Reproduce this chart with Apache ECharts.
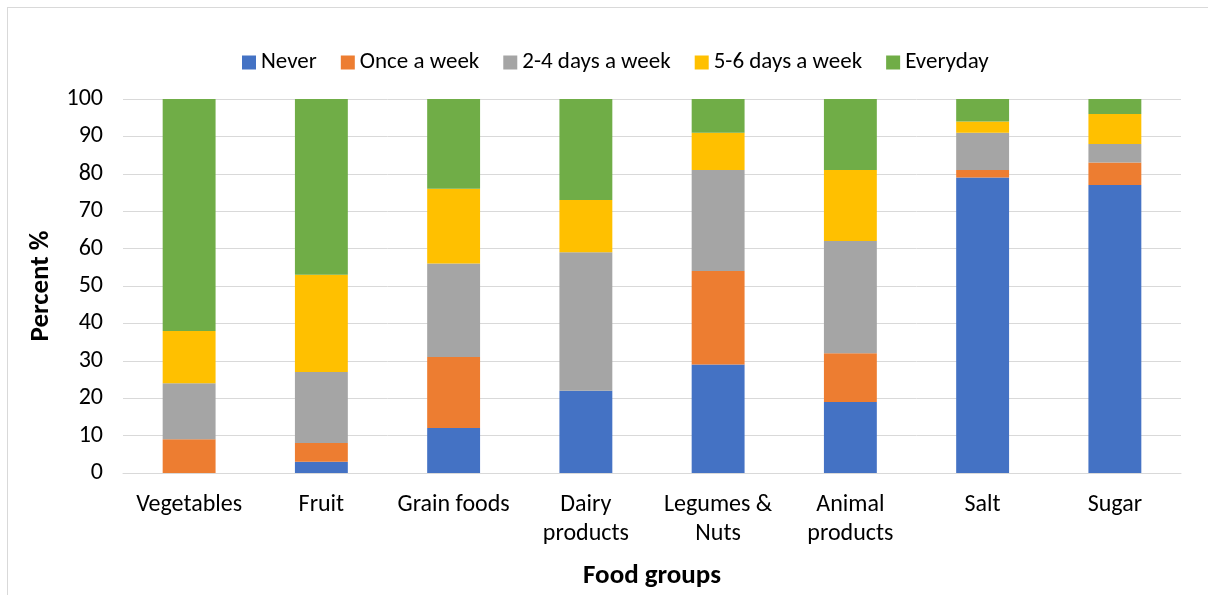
<!DOCTYPE html>
<html>
<head>
<meta charset="utf-8">
<script src="https://cdn.jsdelivr.net/npm/echarts@6/dist/echarts.min.js"></script>
<style>
  html, body { margin: 0; padding: 0; background: #fff; }
  #frame { position: absolute; left: 7px; top: 7px; width: 1230px; height: 620px; border: 1px solid #d9d9d9; box-sizing: border-box; }
  #chart { position: absolute; left: 0; top: 0; width: 1208px; height: 595px; }
</style>
</head>
<body>
<div id="frame"></div>
<div id="chart"></div>
<script>
// Food groups on the x axis
const categories = ['Vegetables', 'Fruit', 'Grain foods', 'Dairy\nproducts', 'Legumes &\nNuts', 'Animal\nproducts', 'Salt', 'Sugar'];

// Consumption frequency shares (%), stacked per food group
const never     = [0, 3, 12, 22, 29, 19, 79, 77];
const onceWeek  = [9, 5, 19, 0, 25, 13, 2, 6];
const days2to4  = [15, 19, 25, 37, 27, 30, 10, 5];
const days5to6  = [14, 26, 20, 14, 10, 19, 3, 8];
const everyday  = [62, 47, 24, 27, 9, 19, 6, 4];

const seriesNames = ['Never', 'Once a week', '2-4 days a week', '5-6 days a week', 'Everyday'];
const seriesColors = ['#4472c4', '#ed7d31', '#a5a5a5', '#ffc000', '#70ad47'];
const seriesData = [never, onceWeek, days2to4, days5to6, everyday];

const yTicks = [0, 10, 20, 30, 40, 50, 60, 70, 80, 90, 100];

const font = 'Calibri, Carlito, "Noto Sans", sans-serif';

const chart = echarts.init(document.getElementById('chart'), null, { renderer: 'canvas' });

chart.setOption({
  animation: false,
  textStyle: { fontFamily: font },
  legend: {
    top: 46,
    left: 237,
    itemWidth: 14,
    itemHeight: 14,
    itemGap: 24,
    icon: 'rect',
    textStyle: { fontSize: 23, color: '#000', fontFamily: font },
    data: seriesNames
  },
  grid: { left: 123, right: 27, top: 99, bottom: 122, containLabel: false },
  xAxis: {
    type: 'category',
    data: categories,
    axisTick: { show: false },
    axisLine: { show: true, lineStyle: { color: '#d9d9d9', width: 1 } },
    axisLabel: { interval: 0, fontSize: 24, color: '#000', lineHeight: 29, margin: 17, fontFamily: font },
    name: 'Food groups',
    nameLocation: 'middle',
    nameGap: 90,
    nameTextStyle: { fontSize: 27, fontWeight: 'bold', color: '#000', fontFamily: font }
  },
  yAxis: {
    type: 'value',
    min: yTicks[0],
    max: yTicks[yTicks.length - 1],
    interval: yTicks[1] - yTicks[0],
    axisLine: { show: false },
    axisTick: { show: false },
    splitLine: { lineStyle: { color: '#d9d9d9', width: 1 } },
    axisLabel: { fontSize: 24, color: '#000', margin: 20, fontFamily: font },
    name: 'Percent %',
    nameLocation: 'middle',
    nameGap: 68,
    nameTextStyle: { fontSize: 27, fontWeight: 'bold', color: '#000', fontFamily: font }
  },
  series: seriesNames.map((name, i) => ({
    name: name,
    type: 'bar',
    stack: 'total',
    barWidth: '40%',
    data: seriesData[i],
    itemStyle: { color: seriesColors[i] }
  }))
});
</script>
</body>
</html>
